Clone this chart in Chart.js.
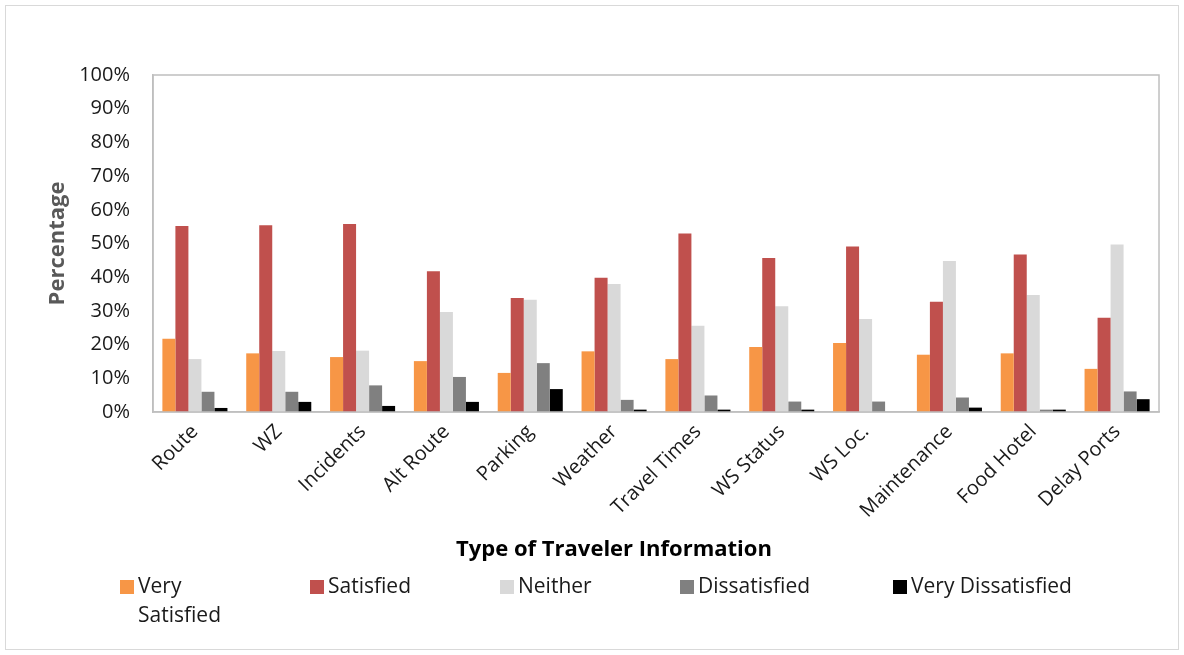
<!DOCTYPE html>
<html>
<head>
    <title>Traveler Information Satisfaction</title>
    <script src="https://cdn.jsdelivr.net/npm/chart.js"></script>
    <style>
        html, body { margin: 0; padding: 0; background: #fff; }
        #wrap { width: 1184px; height: 655px; position: relative; }
    </style>
</head>
<body>
    <div id="wrap"><canvas id="satisfactionChart" width="1184" height="655"></canvas></div>
    <script>
        // values (percent)
        const categories = ['Route', 'WZ', 'Incidents', 'Alt Route', 'Parking', 'Weather',
            'Travel Times', 'WS Status', 'WS Loc.', 'Maintenance', 'Food Hotel', 'Delay Ports'];
        const verySatisfied = [21.7, 17.4, 16.3, 15.1, 11.6, 18.0, 15.7, 19.3, 20.5, 17.0, 17.4, 12.8];
        const satisfied = [55.2, 55.4, 55.8, 41.8, 33.8, 39.8, 53.0, 45.7, 49.1, 32.7, 46.7, 28.0];
        const neither = [15.7, 18.1, 18.2, 29.7, 33.3, 38.0, 25.6, 31.4, 27.6, 44.8, 34.7, 49.7];
        const dissatisfied = [6.0, 6.0, 7.9, 10.4, 14.5, 3.6, 4.9, 3.1, 3.1, 4.3, 0.7, 6.1];
        const veryDissatisfied = [1.2, 3.0, 1.8, 3.0, 6.8, 0.7, 0.7, 0.7, 0, 1.3, 0.7, 3.8];
        const yTicks = [0, 10, 20, 30, 40, 50, 60, 70, 80, 90, 100];

        const seriesNames = ['Very Satisfied', 'Satisfied', 'Neither', 'Dissatisfied', 'Very Dissatisfied'];
        const seriesData = [verySatisfied, satisfied, neither, dissatisfied, veryDissatisfied];
        const seriesColors = ['#F79646', '#C0504D', '#D9D9D9', '#808080', '#000000'];
        const xTitle = 'Type of Traveler Information';

        const FONT = "'Open Sans', 'Noto Sans', sans-serif";

        // frame round the plot area and round the whole chart
        const framePlugin = {
            id: 'frames',
            beforeDraw(chart) {
                const c = chart.ctx;
                c.save();
                c.strokeStyle = '#d9d9d9';
                c.lineWidth = 1;
                c.strokeRect(5.5, 5.5, chart.width - 11, chart.height - 11);
                c.restore();
            },
            afterDatasetsDraw(chart) {
                const a = chart.chartArea;
                const c = chart.ctx;
                c.save();
                c.strokeStyle = '#bfbfbf';
                c.lineWidth = 1.5;
                c.strokeRect(a.left, a.top, a.right - a.left, a.bottom - a.top);
                c.restore();
            }
        };

        // Excel style x title and legend under the category labels
        const legendPlugin = {
            id: 'bottomLegend',
            afterDraw(chart) {
                const c = chart.ctx;
                c.save();
                c.font = 'bold 22px ' + FONT;
                c.fillStyle = '#000';
                c.textAlign = 'center';
                c.textBaseline = 'middle';
                c.fillText(xTitle, 614, 550);

                const xs = [120, 310, 500, 680, 893];
                const y = 587;
                c.font = '21px ' + FONT;
                c.textAlign = 'left';
                chart.data.datasets.forEach((ds, i) => {
                    c.fillStyle = ds.backgroundColor;
                    c.fillRect(xs[i], y - 7, 14, 14);
                    c.fillStyle = '#1a1a1a';
                    const lines = i === 0 ? ds.label.split(' ') : [ds.label];
                    lines.forEach((ln, j) => c.fillText(ln, xs[i] + 18, y + j * 29));
                });
                c.restore();
            }
        };

        const ctx = document.getElementById('satisfactionChart').getContext('2d');
        new Chart(ctx, {
            type: 'bar',
            data: {
                labels: categories,
                datasets: seriesNames.map((name, i) => ({
                    label: name,
                    data: seriesData[i],
                    backgroundColor: seriesColors[i],
                    borderWidth: 0,
                    barPercentage: 1.0,
                    categoryPercentage: 0.776
                }))
            },
            options: {
                responsive: false,
                animation: false,
                layout: { padding: { top: 75, left: 45, right: 25, bottom: 93 } },
                scales: {
                    x: {
                        grid: { display: false },
                        border: { display: true, color: '#bfbfbf', width: 1.5 },
                        ticks: {
                            color: '#1a1a1a',
                            font: { family: FONT, size: 20 },
                            maxRotation: 45,
                            minRotation: 45,
                            padding: 0
                        },
                        afterFit(scale) { scale.height = 150; }
                    },
                    y: {
                        min: 0,
                        max: 100,
                        grid: { display: false },
                        border: { display: true, color: '#bfbfbf', width: 1.5 },
                        afterBuildTicks(scale) {
                            scale.ticks = yTicks.map(v => ({ value: v }));
                        },
                        ticks: {
                            color: '#1a1a1a',
                            font: { family: FONT, size: 20 },
                            padding: 15,
                            callback: v => v + '%'
                        },
                        title: {
                            display: true,
                            text: 'Percentage',
                            color: '#595959',
                            font: { family: FONT, size: 22, weight: 'bold' },
                            padding: { top: 0, bottom: 0 }
                        },
                        afterFit(scale) { scale.width = 108; }
                    }
                },
                plugins: {
                    legend: { display: false },
                    tooltip: { enabled: false }
                }
            },
            plugins: [framePlugin, legendPlugin]
        });
    </script>
</body>
</html>
